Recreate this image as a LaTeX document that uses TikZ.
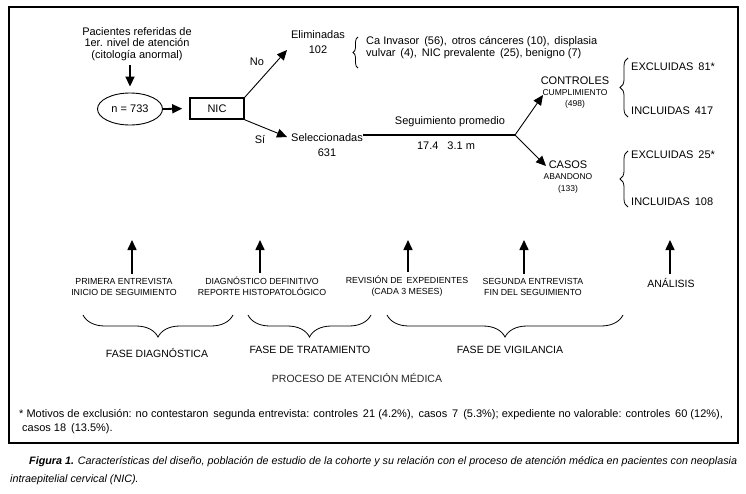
\documentclass[tikz,border=0pt]{standalone}
\usepackage{fontspec}
\setmainfont{Liberation Sans}
\usetikzlibrary{arrows.meta,shapes.geometric,decorations.pathreplacing}
\begin{document}
\begin{tikzpicture}[x=1pt,y=-1pt,
  txt/.style={inner sep=0pt,align=center,font=\fontsize{11}{11.5}\selectfont},
  mid/.style={inner sep=0pt,align=center,font=\fontsize{11}{15}\selectfont},
  lbl/.style={inner sep=0pt,align=center,font=\fontsize{8.8}{11}\selectfont},
  tiny/.style={inner sep=0pt,align=center,font=\fontsize{8.5}{9}\selectfont},
  fase/.style={inner sep=0pt,align=center,font=\fontsize{10.5}{12}\selectfont},
  bigarr/.style={line width=1.8pt,-{Triangle[length=10pt,width=9pt]}},
  arr/.style={line width=0.9pt,-{Triangle[length=10pt,width=9pt]}},
  upbrace/.style={decorate,line width=0.8pt,decoration={brace,amplitude=#1}},
]
\useasboundingbox (0,0) rectangle (746,493);
\draw[line width=1.2pt] (9,7) rectangle (738,443);

% top flow
\node[txt] (pac) at (137,44) {Pacientes referidas de\\1er. nivel de atención\\(citología anormal)};
\node[txt,draw,ellipse,line width=0.9pt,minimum width=65pt,minimum height=32pt] (n) at (130,109) {n = 733};
\node[txt,draw,line width=1.6pt,minimum width=54pt,minimum height=21pt] (nic) at (217,108.5) {NIC};
\draw[bigarr,shorten <=4pt,shorten >=6pt] (pac.south -| n.north) -- (n.north);
\draw[bigarr,shorten >=7pt] (n.east) -- (nic.west);

\node[mid] (elim) at (318,42.5) {Eliminadas\\102};
\node[mid] (sel) at (327,145.5) {Seleccionadas\\631};
\coordinate (elimtip) at (287,50);
\coordinate (seltip) at (287,137);
\draw[arr] (nic.north east) -- (elimtip);
\draw[arr] (nic.south east) -- (seltip);
\node[txt] (no) at (257,62) {No};
\node[txt] (si) at (260,139) {Sí};

\draw[upbrace=5pt] (358,68) -- (358,37);
\node[txt,anchor=west,align=left] (motelim) at (366,47.5) {Ca Invasor\, (56),\, otros cánceres (10),\, displasia\\vulvar\, (4),\, NIC prevalente\, (25), benigno (7)};

\coordinate (br) at (515,135);
\draw[line width=2.2pt] (sel.east |- br) -- (br);
\node[txt] (seg) at (450,122) {Seguimiento promedio};
\node[txt] (segv) at (446,146) {17.4\hspace{9pt}3.1 m};

\node[txt] (ctl) at (575,81) {CONTROLES};
\node[tiny] (ctlsub) at (575,93) {CUMPLIMIENTO};
\node[tiny] (ctln) at (575,104) {(498)};
\node[txt] (cas) at (568,165) {CASOS};
\node[tiny] (cassub) at (568,177) {ABANDONO};
\node[tiny] (casn) at (568,189) {(133)};
\coordinate (ctltip) at (543,95);
\coordinate (castip) at (546,166);
\draw[arr] (br) -- (ctltip);
\draw[arr] (br) -- (castip);

\draw[upbrace=8pt] (628,117) -- (628,58);
\draw[upbrace=8pt] (628,207) -- (628,151);
\node[txt,anchor=west] (ex1) at (631,67) {EXCLUIDAS\, 81*};
\node[txt,anchor=west] (in1) at (631,111) {INCLUIDAS\, 417};
\node[txt,anchor=west] (ex2) at (631,155) {EXCLUIDAS\, 25*};
\node[txt,anchor=west] (in2) at (631,202) {INCLUIDAS\, 108};

% process timeline
\node[lbl] (l1) at (124,286.5) {PRIMERA ENTREVISTA\\INICIO DE SEGUIMIENTO};
\node[lbl] (l2) at (262,286.5) {DIAGNÓSTICO DEFINITIVO\\REPORTE HISTOPATOLÓGICO};
\node[lbl] (l3) at (407,286.5) {REVISIÓN DE\, EXPEDIENTES\\(CADA 3 MESES)};
\node[lbl] (l4) at (533,286.5) {SEGUNDA ENTREVISTA\\FIN DEL SEGUIMIENTO};
\node[fase] (l5) at (671,283) {ANÁLISIS};
\foreach \i/\x in {1/132,2/260,3/408,4/524,5/670}{
  \coordinate (t\i) at (\x,240);
  \draw[bigarr,line width=1.6pt,shorten <=4pt] (l\i.north -| t\i) -- (t\i);
}

\draw[upbrace=22pt] (233,315) -- (83,315);
\draw[upbrace=22pt] (371,315) -- (248,315);
\draw[upbrace=22pt] (623,315) -- (387,315);
\node[fase] (f1) at (157,353) {FASE DIAGNÓSTICA};
\node[fase] (f2) at (310,350) {FASE DE TRATAMIENTO};
\node[fase] (f3) at (510,350) {FASE DE VIGILANCIA};
\node[fase,text=black!85] (proc) at (357,378) {PROCESO DE ATENCIÓN MÉDICA};

% footnote
\node[inner sep=0pt,anchor=west,font=\fontsize{11}{12}\selectfont] (fn1) at (19,415) {* Motivos de exclusión: no contestaron\, segunda entrevista: controles\, 21 (4.2\%),\, casos\, 7\, (5.3\%); expediente no valorable: controles\, 60 (12\%),};
\node[inner sep=0pt,anchor=west,font=\fontsize{11}{12}\selectfont] (fn2) at (22,429) {casos 18\, (13.5\%).};

% caption
\node[inner sep=0pt,anchor=west,font=\fontsize{10.75}{12}\selectfont\itshape] (cap1) at (29,462) {\textbf{Figura 1.} Características del diseño, población de estudio de la cohorte y su relación con el proceso de atención médica en pacientes con neoplasia};
\node[inner sep=0pt,anchor=west,font=\fontsize{10.75}{12}\selectfont\itshape] (cap2) at (10,480) {intraepitelial cervical (NIC).};
\end{tikzpicture}
\end{document}
